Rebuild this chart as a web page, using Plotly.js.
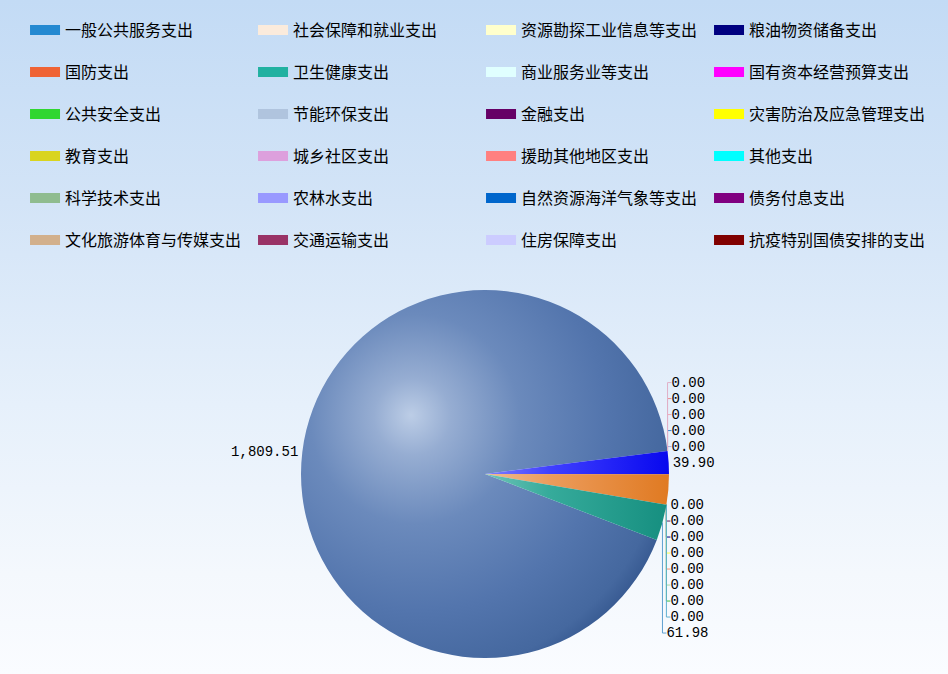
<!DOCTYPE html>
<html>
<head>
<meta charset="utf-8">
<script src="https://cdn.plot.ly/plotly-3.0.1.min.js"></script>
<style>
  html, body { margin: 0; padding: 0; }
  body {
    width: 948px; height: 674px; overflow: hidden;
    background: linear-gradient(to bottom, #c3dbf5 0%, #d3e4f7 30%, #e6f0fb 60%, #f4f8fd 85%, #fafcff 100%);
  }
  #chart { width: 948px; height: 674px; }
</style>
</head>
<body>
<div id="chart"></div>
<script>
// ---- data ----
var categories = ['一般公共服务支出','国防支出','公共安全支出','教育支出','科学技术支出','文化旅游体育与传媒支出',
  '社会保障和就业支出','卫生健康支出','节能环保支出','城乡社区支出','农林水支出','交通运输支出',
  '资源勘探工业信息等支出','商业服务业等支出','金融支出','援助其他地区支出','自然资源海洋气象等支出','住房保障支出',
  '粮油物资储备支出','国有资本经营预算支出','灾害防治及应急管理支出','其他支出','债务付息支出','抗疫特别国债安排的支出'];
var values = [1809.51, 0, 0, 0, 0, 0,
  39.90, 52.00, 0, 0, 0, 0,
  0, 0, 0, 0, 0, 61.98,
  0, 0, 0, 0, 0, 0];
var legendColors = ['#2489d1','#ef6335','#30d630','#d9d41f','#8fbc8f','#d2b08c',
  '#fbebdc','#21b1a1','#b0c4de','#dda0dd','#9999ff','#993366',
  '#ffffcc','#e0ffff','#660066','#ff8080','#0066cc','#ccccff',
  '#000080','#ff00ff','#ffff00','#00ffff','#800080','#800000'];
var sliceColors = ['#4f73ab','#c8bfe7','#ffb6c1','#f4a0a0','#e8c0d0','#d8d0f0',
  '#1f1ff5','#e6832e','#a0a0e0','#903060','#000080','#ffff66',
  '#ff9070','#b0e0b0','#40c040','#60c0c0','#7090d0','#1d9d8b',
  '#000080','#ff00ff','#ffff00','#00ffff','#800080','#800000'];
// ---- end data ----

// labels that the reference does not show (hidden behind others there)
var hiddenLabels = [7, 16, 18, 19, 20, 21, 22, 23];
var lineColors = ['#b8c4d8','#b0a8e0','#3a8ad0','#f0a8b8','#e89090','#e0b0c8',
  '#d8d8f0','#e08040','#903060','#602060','#000080','#ffff44',
  '#ff9070','#a8d8a8','#40c040','#60b0d0','#7090d0','#60a0d0',
  '#000080','#ff00ff','#ffff00','#00ffff','#800080','#800000'];

var nCols = 4, nRows = 6;
var traces = [];

var templates = categories.map(function (c, i) {
  return hiddenLabels.indexOf(i) >= 0 ? '' : '%{value:,.2f}';
});

traces.push({
  type: 'pie',
  labels: categories,
  values: values,
  sort: false,
  direction: 'clockwise',
  rotation: 111,
  marker: { colors: sliceColors, line: { width: 0 } },
  texttemplate: templates,
  textposition: 'outside',
  outsidetextfont: { family: 'Liberation Mono, DejaVu Sans Mono, monospace', size: 14, color: '#000000' },
  showlegend: false,
  domain: { x: [0.3175, 0.7057], y: [0.0237, 0.5697] },
  hoverinfo: 'none'
});

for (var r = 0; r < nRows; r++) {
  for (var c = 0; c < nCols; c++) {
    var idx = c * nRows + r;
    traces.push({
      type: 'scatter', mode: 'lines',
      x: [null], y: [null],
      name: '<span style="font-size:16px">' + categories[idx] + '</span><br>\u00a0',
      line: { color: legendColors[idx], width: 12 },
      hoverinfo: 'none'
    });
  }
}

var layout = {
  width: 948, height: 674,
  margin: { l: 0, r: 0, t: 0, b: 0 },
  paper_bgcolor: 'rgba(0,0,0,0)',
  plot_bgcolor: 'rgba(0,0,0,0)',
  font: { family: 'Noto Sans CJK SC, sans-serif', color: '#000000' },
  xaxis: { visible: false },
  yaxis: { visible: false },
  showlegend: true,
  legend: {
    orientation: 'h',
    x: 0.0264, xanchor: 'left',
    y: 0.9796, yanchor: 'top',
    entrywidth: 183, entrywidthmode: 'pixels',
    valign: 'top',
    bgcolor: 'rgba(0,0,0,0)',
    font: { family: 'Noto Sans CJK SC, sans-serif', size: 15, color: '#000000' },
    itemclick: false, itemdoubleclick: false
  }
};

var gd = document.getElementById('chart');
Plotly.newPlot(gd, traces, layout, { staticPlot: true, displayModeBar: false }).then(function () {
  var NS = 'http://www.w3.org/2000/svg';
  var svg = gd.querySelector('svg.main-svg');
  var defs = svg.querySelector('defs') || svg.insertBefore(document.createElementNS(NS, 'defs'), svg.firstChild);
  function grad(id, type, attrs, stops) {
    var g = document.createElementNS(NS, type);
    g.setAttribute('id', id);
    for (var k in attrs) g.setAttribute(k, attrs[k]);
    stops.forEach(function (s) {
      var st = document.createElementNS(NS, 'stop');
      st.setAttribute('offset', s[0]);
      st.setAttribute('stop-color', s[1]);
      g.appendChild(st);
    });
    defs.appendChild(g);
  }
  grad('gBig', 'radialGradient', { cx: '0.33', cy: '0.37', r: '0.75', fx: '0.3', fy: '0.34' },
    [[0, '#bccde6'], [0.14, '#96add2'], [0.38, '#6b8abc'], [0.68, '#5375ad'], [0.9, '#45689f'], [1, '#30528a']]);
  grad('gBlue', 'linearGradient', { x1: '0', y1: '0', x2: '1', y2: '0' },
    [[0, '#8080ff'], [0.35, '#4040ff'], [1, '#0808ee']]);
  grad('gOrange', 'linearGradient', { x1: '0', y1: '0', x2: '1', y2: '0' },
    [[0, '#f0bc94'], [0.35, '#ec9c5c'], [1, '#e07a22']]);
  grad('gTeal', 'linearGradient', { x1: '0', y1: '0', x2: '1', y2: '0' },
    [[0, '#70c4b8'], [0.35, '#36ab9b'], [1, '#168f80']]);
  var fills = {};
  fills[categories[0]] = 'url(#gBig)';
  fills[categories[6]] = 'url(#gBlue)';
  fills[categories[7]] = 'url(#gOrange)';
  fills[categories[17]] = 'url(#gTeal)';
  gd.querySelectorAll('g.slice').forEach(function (s) {
    var d = s.__data__;
    var lbl = d && (d.label !== undefined ? d.label : (d[0] && d[0].label));
    var p = s.querySelector('path.surface');
    if (p && fills[lbl]) p.style.fill = fills[lbl];
    var tl = s.querySelector('path.textline');
    var i = categories.indexOf(lbl);
    if (tl && i >= 0) {
      tl.style.stroke = lineColors[i];
      tl.style.strokeWidth = '1px';
    }
  });
});
</script>
</body>
</html>
